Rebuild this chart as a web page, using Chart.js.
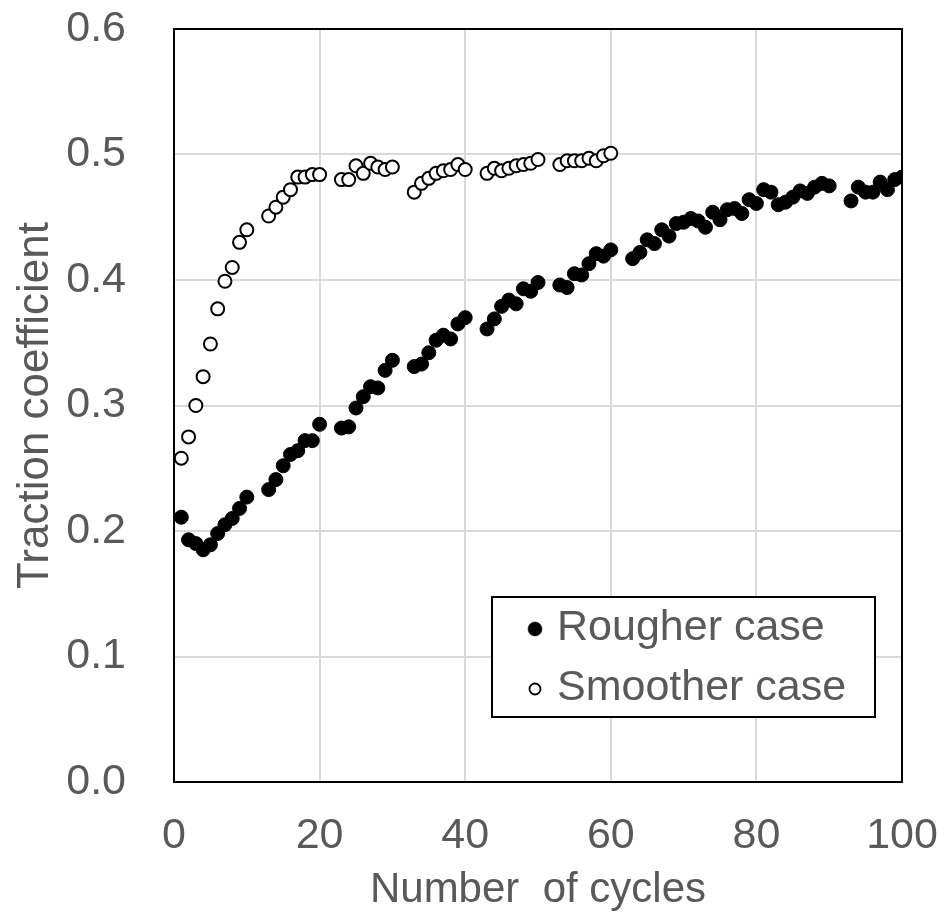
<!DOCTYPE html>
<html>
<head>
<meta charset="utf-8">
<script src="https://cdn.jsdelivr.net/npm/chart.js@4/dist/chart.umd.min.js"></script>
<style>
  html, body { margin: 0; padding: 0; background: #fff; }
  canvas { display: block; }
</style>
</head>
<body>
<canvas id="tractionChart" width="946" height="922"></canvas>
<script>
// values
var roughCycles = [1,2,3,4,5,6,7,8,9,10, 13,14,15,16,17,18,19,20, 23,24,25,26,27,28,29,30,
  33,34,35,36,37,38,39,40, 43,44,45,46,47,48,49,50, 53,54,55,56,57,58,59,60,
  63,64,65,66,67,68,69,70,71,72,73,74,75,76,77,78,79,80,81,82,83,84,85,86,87,88,89,90,
  93,94,95,96,97,98,99,100];
var roughValues = [0.211,0.193,0.190,0.185,0.189,0.198,0.205,0.210,0.218,0.227,
  0.233,0.241,0.252,0.261,0.264,0.272,0.272,0.285,
  0.282,0.283,0.298,0.307,0.315,0.314,0.328,0.336,
  0.331,0.333,0.342,0.352,0.356,0.353,0.365,0.370,
  0.361,0.369,0.379,0.384,0.381,0.393,0.391,0.398,
  0.396,0.394,0.405,0.404,0.413,0.421,0.419,0.424,
  0.417,0.422,0.432,0.429,0.440,0.435,0.445,0.446,0.449,0.447,0.442,0.454,0.448,0.456,
  0.457,0.453,0.464,0.461,0.472,0.470,0.460,0.462,0.466,0.471,0.469,0.474,0.477,0.475,
  0.463,0.474,0.470,0.470,0.478,0.472,0.480,0.482];

var smoothCycles = [1,2,3,4,5,6,7,8,9,10, 13,14,15,16,17,18,19,20, 23,24,25,26,27,28,29,30,
  33,34,35,36,37,38,39,40, 43,44,45,46,47,48,49,50, 53,54,55,56,57,58,59,60];
var smoothValues = [0.258,0.275,0.300,0.323,0.349,0.377,0.399,0.410,0.430,0.440,
  0.451,0.458,0.466,0.472,0.482,0.482,0.484,0.484,
  0.480,0.480,0.491,0.485,0.493,0.490,0.488,0.490,
  0.470,0.477,0.481,0.485,0.487,0.488,0.492,0.488,
  0.485,0.489,0.487,0.489,0.491,0.492,0.493,0.496,
  0.492,0.495,0.495,0.495,0.497,0.495,0.499,0.501];

var seriesNames = ['Rougher case', 'Smoother case'];
var xTicks = [0, 20, 40, 60, 80, 100];
var yTicks = [0.0, 0.1, 0.2, 0.3, 0.4, 0.5, 0.6];

function toPoints(xs, ys) {
  return xs.map(function (x, i) { return { x: x, y: ys[i] }; });
}

var FONT = '"Liberation Sans", Arial, sans-serif';
var TEXT = '#595959';

// frame around the plot area + legend box inside it
var framePlugin = {
  id: 'frameAndLegend',
  afterDraw: function (chart) {
    var ctx = chart.ctx, a = chart.chartArea;
    ctx.save();
    ctx.strokeStyle = '#000';
    ctx.lineWidth = 2;
    ctx.strokeRect(a.left, a.top, a.right - a.left, a.bottom - a.top);

    // legend
    ctx.fillStyle = '#fff';
    ctx.fillRect(492, 597, 383, 120);
    ctx.strokeRect(492, 597, 383, 120);
    ctx.font = '43px ' + FONT;
    ctx.textBaseline = 'middle';
    ctx.textAlign = 'left';
    chart.data.datasets.forEach(function (ds, i) {
      var y = 628 + i * 60;
      ctx.beginPath();
      ctx.arc(535, y + 1, i === 0 ? 7 : 5.5, 0, Math.PI * 2);
      ctx.fillStyle = ds.pointBackgroundColor;
      ctx.fill();
      ctx.lineWidth = i === 0 ? 0.5 : 1.8;
      ctx.strokeStyle = '#000';
      ctx.stroke();
      ctx.fillStyle = TEXT;
      ctx.fillText(ds.label, 557, y);
    });
    ctx.restore();
  }
};

var ctx = document.getElementById('tractionChart').getContext('2d');
var chart = new Chart(ctx, {
  type: 'scatter',
  data: {
    datasets: [{
      label: seriesNames[0],
      data: toPoints(roughCycles, roughValues),
      pointRadius: 7,
      pointBorderWidth: 1,
      pointBackgroundColor: '#000',
      pointBorderColor: '#000',
      pointHoverRadius: 7
    }, {
      label: seriesNames[1],
      data: toPoints(smoothCycles, smoothValues),
      pointRadius: 6.5,
      pointBorderWidth: 2,
      pointBackgroundColor: '#fff',
      pointBorderColor: '#000',
      pointHoverRadius: 6.5
    }]
  },
  options: {
    responsive: false,
    animation: false,
    devicePixelRatio: 1,
    layout: { padding: { top: 29, right: 44, left: 0, bottom: 0 } },
    plugins: {
      legend: { display: false },
      tooltip: { enabled: false }
    },
    scales: {
      x: {
        type: 'linear',
        min: 0,
        max: 100,
        afterFit: function (scale) {
          scale.height = 140;
          scale.paddingLeft = 0;
          scale.paddingRight = 0;
        },
        afterBuildTicks: function (scale) {
          scale.ticks = xTicks.map(function (v) { return { value: v }; });
        },
        grid: { color: '#d9d9d9', lineWidth: 2, drawTicks: false },
        border: { display: false },
        ticks: {
          padding: 28,
          color: TEXT,
          font: { family: FONT, size: 43 },
          maxRotation: 0,
          callback: function (v) { return String(v); }
        },
        title: {
          display: true,
          text: 'Number  of cycles',
          color: TEXT,
          font: { family: FONT, size: 42 },
          padding: { top: 0, bottom: 6 }
        }
      },
      y: {
        type: 'linear',
        min: 0,
        max: 0.6,
        afterFit: function (scale) {
          scale.width = 174;
          scale.paddingTop = 0;
          scale.paddingBottom = 0;
        },
        afterBuildTicks: function (scale) {
          scale.ticks = yTicks.map(function (v) { return { value: v }; });
        },
        grid: { color: '#d9d9d9', lineWidth: 2, drawTicks: false },
        border: { display: false },
        ticks: {
          padding: 48,
          color: TEXT,
          font: { family: FONT, size: 43 },
          callback: function (v) { return Number(v).toFixed(1); }
        },
        title: {
          display: true,
          text: 'Traction coefficient',
          color: TEXT,
          font: { family: FONT, size: 44 },
          padding: { top: 9, bottom: 0 }
        }
      }
    }
  },
  plugins: [framePlugin]
});
</script>
</body>
</html>
